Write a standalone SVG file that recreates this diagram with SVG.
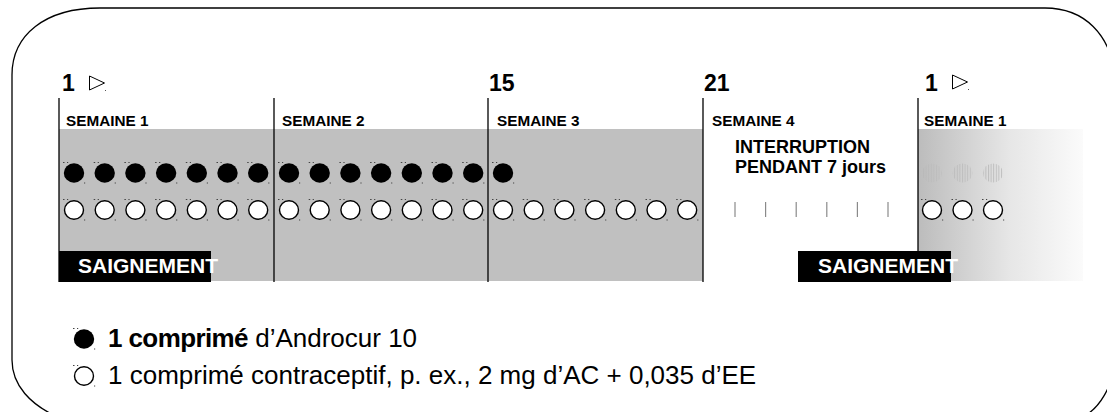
<svg xmlns="http://www.w3.org/2000/svg" xmlns:xlink="http://www.w3.org/1999/xlink" width="1107" height="412" viewBox="0 0 1107 412">
<style>
text{font-family:"Liberation Sans",Arial,sans-serif;fill:#000}
.num{font-size:23px;font-weight:bold}
.wk{font-size:15.3px;font-weight:bold}
.int{font-size:18px;font-weight:bold}
.bleed{font-size:21px;font-weight:bold;fill:#fff}
.leg{font-size:26px}
.div{stroke:#000;stroke-width:1.3}
.tri{fill:#fff;stroke:#000;stroke-width:1}
.tick{stroke:#8a8a8a;stroke-width:1.2}
</style>
<defs>
<g id="pf"><ellipse rx="10.2" ry="9.7" fill="#000"/><path d="M-11,-10.5h1.5M-7,-10.5h1.2M10,10h1.2" stroke="#444" stroke-width="1"/></g>
<g id="po"><ellipse rx="9.5" ry="9.2" fill="#fff" stroke="#000" stroke-width="1.4"/><path d="M-11,-10.5h1.5M-7,-10.5h1.2M10,10h1.2" stroke="#444" stroke-width="1"/></g>
<linearGradient id="fade" x1="0" y1="0" x2="1" y2="0">
<stop offset="0" stop-color="#bcbcbc"/><stop offset="0.55" stop-color="#e6e6e6"/><stop offset="1" stop-color="#fbfbfb"/>
</linearGradient>
<pattern id="stripe" width="2.6" height="20" patternUnits="userSpaceOnUse">
<rect x="0" y="0" width="1" height="20" fill="#a8a8a8"/>
</pattern>
</defs>
<rect width="1107" height="412" fill="#fff"/>
<path id="outline" d="M100,8 H1045 C1085,8 1110,35 1115,75 V360 C1113,385 1100,410 1080,418 H60 C30,405 12,385 12,360 V75 C12,35 45,8 100,8 Z" fill="none" stroke="#000" stroke-width="1.3"/>

<g id="band">
<rect x="59" y="129" width="644" height="152" fill="#c0c0c0"/>
<rect x="918" y="129" width="165" height="152" fill="url(#fade)"/>
</g>

<g id="connectors">
<line class="div" x1="59" y1="98" x2="59" y2="282"/>
<line class="div" x1="274" y1="98" x2="274" y2="282" stroke="#333"/>
<line class="div" x1="488" y1="98" x2="488" y2="282" stroke="#333"/>
<line class="div" x1="703" y1="98" x2="703" y2="282"/>
<line class="div" x1="918" y1="98" x2="918" y2="252"/>
</g>

<g id="markers">
<text class="num" x="62" y="91">1</text>
<polygon class="tri" points="89.5,76 104.5,83 89.5,90"/>
<rect x="105" y="90" width="1" height="1" fill="#555"/>
<text class="num" x="489" y="91">15</text>
<text class="num" x="704" y="91">21</text>
<text class="num" x="925" y="91">1</text>
<polygon class="tri" points="952.5,75 967.5,82 952.5,89"/>
<rect x="968" y="89" width="1" height="1" fill="#555"/>
</g>

<g id="week1">
<text class="wk" x="66" y="126">SEMAINE 1</text>
<use href="#pf" x="74" y="173"/><use href="#pf" x="104.7" y="173"/><use href="#pf" x="135.4" y="173"/><use href="#pf" x="166.1" y="173"/><use href="#pf" x="196.8" y="173"/><use href="#pf" x="227.5" y="173"/><use href="#pf" x="258.2" y="173"/>
<use href="#po" x="74" y="210"/><use href="#po" x="104.7" y="210"/><use href="#po" x="135.4" y="210"/><use href="#po" x="166.1" y="210"/><use href="#po" x="196.8" y="210"/><use href="#po" x="227.5" y="210"/><use href="#po" x="258.2" y="210"/>
</g>

<g id="week2">
<text class="wk" x="282" y="126">SEMAINE 2</text>
<use href="#pf" x="289" y="173"/><use href="#pf" x="319.7" y="173"/><use href="#pf" x="350.4" y="173"/><use href="#pf" x="381.1" y="173"/><use href="#pf" x="411.8" y="173"/><use href="#pf" x="442.5" y="173"/><use href="#pf" x="473.2" y="173"/>
<use href="#po" x="289" y="210"/><use href="#po" x="319.7" y="210"/><use href="#po" x="350.4" y="210"/><use href="#po" x="381.1" y="210"/><use href="#po" x="411.8" y="210"/><use href="#po" x="442.5" y="210"/><use href="#po" x="473.2" y="210"/>
</g>

<g id="week3">
<text class="wk" x="497" y="126">SEMAINE 3</text>
<use href="#pf" x="503" y="173"/>
<use href="#po" x="503" y="210"/><use href="#po" x="533.7" y="210"/><use href="#po" x="564.4" y="210"/><use href="#po" x="595.1" y="210"/><use href="#po" x="625.8" y="210"/><use href="#po" x="656.5" y="210"/><use href="#po" x="687.2" y="210"/>
</g>

<g id="week4">
<text class="wk" x="712" y="126">SEMAINE 4</text>
<text class="int" x="735" y="153">INTERRUPTION</text>
<text class="int" x="735" y="173">PENDANT 7 jours</text>
<line class="tick" x1="735" y1="202" x2="735" y2="217"/>
<line class="tick" x1="765.6" y1="202" x2="765.6" y2="217"/>
<line class="tick" x1="796.2" y1="202" x2="796.2" y2="217"/>
<line class="tick" x1="826.8" y1="202" x2="826.8" y2="217"/>
<line class="tick" x1="857.4" y1="202" x2="857.4" y2="217"/>
<line class="tick" x1="888" y1="202" x2="888" y2="217"/>
</g>

<g id="week5">
<text class="wk" x="924" y="126">SEMAINE 1</text>
<ellipse cx="932" cy="173" rx="10" ry="9.5" fill="url(#stripe)" opacity="0.25"/>
<ellipse cx="962.5" cy="173" rx="10" ry="9.5" fill="url(#stripe)" opacity="0.45"/>
<ellipse cx="993" cy="173" rx="10" ry="9.5" fill="url(#stripe)" opacity="0.6"/>
<use href="#po" x="932" y="210"/><use href="#po" x="962.5" y="210"/><use href="#po" x="993" y="210"/>
</g>

<g id="bleed1">
<rect x="59" y="251" width="152" height="31" fill="#000"/>
<text class="bleed" x="78" y="273">SAIGNEMENT</text>
</g>
<g id="bleed2">
<rect x="798" y="251" width="153" height="31" fill="#000"/>
<text class="bleed" x="818" y="273">SAIGNEMENT</text>
</g>

<g id="legend">
<use href="#pf" x="84" y="339"/>
<use href="#po" x="84" y="376"/>
<text class="leg" x="108" y="347"><tspan font-weight="bold" letter-spacing="-0.6">1 comprimé</tspan> d’Androcur 10</text>
<text class="leg" x="108" y="384">1 comprimé contraceptif, p. ex., 2 mg d’AC + 0,035 d’EE</text>
</g>
</svg>
